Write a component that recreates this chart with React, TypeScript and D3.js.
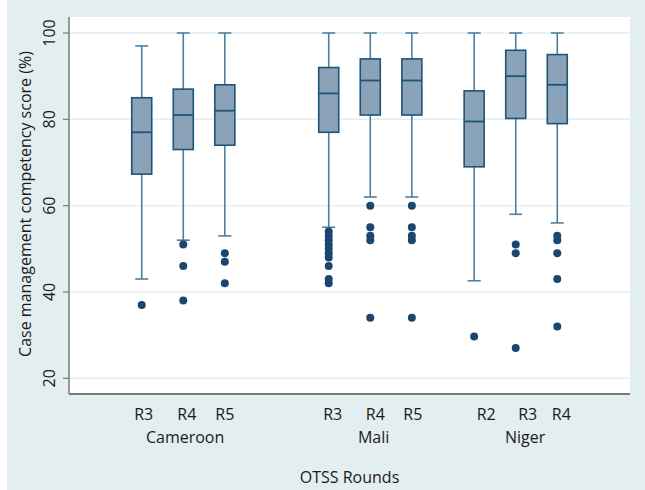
import React from "react";
import * as d3 from "d3";

// ---- data ----
const countries = ["Cameroon", "Mali", "Niger"];
const allRounds = ["R2", "R3", "R4", "R5"];
const boxCountry = ["Cameroon", "Cameroon", "Cameroon", "Mali", "Mali", "Mali", "Niger", "Niger", "Niger"];
const boxRound = ["R3", "R4", "R5", "R3", "R4", "R5", "R2", "R3", "R4"];
const whiskerHigh = [97, 100, 100, 100, 100, 100, 100, 100, 100];
const q3 = [85, 87, 88, 92, 94, 94, 86.6, 96, 95];
const median = [77, 81, 82, 86, 89, 89, 79.5, 90, 88];
const q1 = [67.3, 73, 74, 77, 81, 81, 69, 80.2, 79];
const whiskerLow = [43, 52, 53, 55, 62, 62, 42.6, 58, 56];
const outliers: number[][] = [
  [37],
  [51, 46, 38],
  [49, 47, 42],
  [54, 53, 52, 51, 50, 49, 48, 46, 43, 42],
  [60, 55, 53, 52, 34],
  [60, 55, 53, 52, 34],
  [29.7],
  [51, 49, 27],
  [53, 52, 49, 43, 32],
];
const yTicks = [20, 40, 60, 80, 100];

// ---- layout ----
const W = 645;
const H = 490;
const plotL = 69;
const plotR = 630;
const plotT = 17;
const plotB = 394;
const labelNudge = [2, 3.5, 0, 4, 5, 1, 12, 12, 4];

const FONT = "'Open Sans', 'Liberation Sans', sans-serif";
const NAVY = "#1a476f";
const TXT = "#1a1a1a";

export default function App() {
  const slot = (c: string, r: string) =>
    countries.indexOf(c) * 4.5 + allRounds.indexOf(r);
  const x = d3.scaleLinear().domain([-0.75, 12.75]).range([plotL, plotR]);
  const y = d3.scaleLinear().domain([20, 100]).range([378.3, 33]);
  const boxW = 20;
  const capW = 13;

  const boxes = boxCountry.map((c, i) => ({
    c,
    r: boxRound[i],
    cx: x(slot(c, boxRound[i])),
    i,
  }));

  const groupCenters = countries.map((c) => {
    const bs = boxes.filter((b) => b.c === c);
    return d3.mean(bs, (b) => b.cx + labelNudge[b.i]) as number;
  });

  return (
    <svg
      width={W}
      height={H}
      style={{ position: "absolute", left: 0, top: 0, fontFamily: FONT }}
    >
      <rect x={0} y={0} width={W} height={H} fill="#ffffff" />
      <rect x={7} y={0} width={W - 7} height={H} fill="#e3eef0" />
      <rect x={plotL} y={plotT} width={plotR - plotL} height={plotB - plotT} fill="#ffffff" />

      {/* grid */}
      {yTicks.map((t) => (
        <line key={"g" + t} x1={plotL} x2={plotR} y1={y(t)} y2={y(t)} stroke="#e3eef3" strokeWidth={1.5} />
      ))}

      {/* axes */}
      <line x1={plotL} x2={plotL} y1={plotT} y2={plotB} stroke="#7a7a7a" strokeWidth={1.5} />
      <line x1={plotL} x2={plotR} y1={plotB} y2={plotB} stroke="#7a7a7a" strokeWidth={2} />
      {yTicks.map((t) => (
        <g key={"t" + t}>
          <line x1={plotL - 6} x2={plotL} y1={y(t)} y2={y(t)} stroke="#7a7a7a" strokeWidth={1.2} />
          <text
            transform={`translate(55,${y(t)}) rotate(-90)`}
            textAnchor="middle"
            fontSize={16}
            fill={TXT}
          >
            {t}
          </text>
        </g>
      ))}

      {/* boxes */}
      {boxes.map((b) => {
        const i = b.i;
        return (
          <g key={"b" + i}>
            <line x1={b.cx} x2={b.cx} y1={y(whiskerHigh[i])} y2={y(q3[i])} stroke="#4f7fa0" strokeWidth={1.6} />
            <line x1={b.cx} x2={b.cx} y1={y(q1[i])} y2={y(whiskerLow[i])} stroke="#4f7fa0" strokeWidth={1.6} />
            <line x1={b.cx - capW / 2} x2={b.cx + capW / 2} y1={y(whiskerHigh[i])} y2={y(whiskerHigh[i])} stroke="#4f7fa0" strokeWidth={1.6} />
            <line x1={b.cx - capW / 2} x2={b.cx + capW / 2} y1={y(whiskerLow[i])} y2={y(whiskerLow[i])} stroke="#4f7fa0" strokeWidth={1.6} />
            <rect
              x={b.cx - boxW / 2}
              y={y(q3[i])}
              width={boxW}
              height={y(q1[i]) - y(q3[i])}
              fill="#8ba3b8"
              stroke="#1f5479"
              strokeWidth={1.6}
            />
            <line x1={b.cx - boxW / 2} x2={b.cx + boxW / 2} y1={y(median[i])} y2={y(median[i])} stroke="#1f5479" strokeWidth={1.8} />
            {outliers[i].map((v, k) => (
              <circle key={k} cx={b.cx} cy={y(v)} r={4} fill={NAVY} />
            ))}
            <text
              x={b.cx + labelNudge[i]}
              y={420}
              textAnchor="middle"
              fontSize={16}
              fill={TXT}
            >
              {b.r}
            </text>
          </g>
        );
      })}

      {countries.map((c, k) => (
        <text key={c} x={groupCenters[k]} y={443} textAnchor="middle" fontSize={16} fill={TXT}>
          {c}
        </text>
      ))}

      <text x={(plotL + plotR) / 2} y={483} textAnchor="middle" fontSize={16} fill={TXT}>
        OTSS Rounds
      </text>
      <text
        transform={`translate(31,204) rotate(-90)`}
        textAnchor="middle"
        fontSize={16}
        fill={TXT}
      >
        Case management competency score (%)
      </text>
    </svg>
  );
}
